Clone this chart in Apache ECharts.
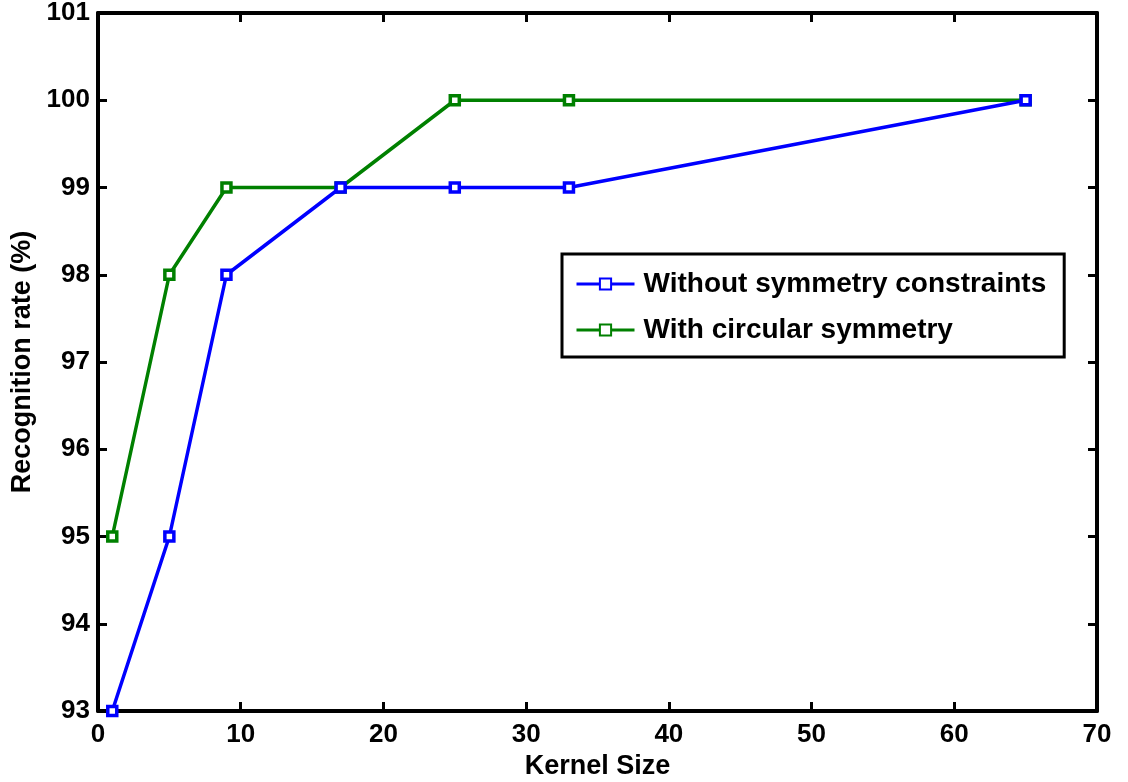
<!DOCTYPE html>
<html>
<head>
<meta charset="utf-8">
<script src="https://cdn.jsdelivr.net/npm/echarts@6/dist/echarts.min.js"></script>
<style>
  html, body { margin: 0; padding: 0; background: #fff; }
  #chart { width: 1128px; height: 782px; }
</style>
</head>
<body>
<div id="chart"></div>
<script>
// Kernel sizes tested and recognition rates (%) for each variant
const kernelSizes = [1, 5, 9, 17, 25, 33, 65];
const withoutSymmetry = [93, 95, 98, 99, 99, 99, 100];
const circularSymmetry = [95, 98, 99, 99, 100, 100, 100];
const seriesNames = ['Without symmetry constraints', 'With circular symmetry'];

const FONT = 'Liberation Sans, Arial, Helvetica, sans-serif';

const pairs = (xs, ys) => xs.map((x, i) => [x, ys[i]]);

const baseAxis = {
  axisLine: { show: true, onZero: false, lineStyle: { color: '#000', width: 4 } },
  axisTick: { show: true, inside: true, length: 9, lineStyle: { color: '#000', width: 3 } },
  splitLine: { show: false }
};

const labelStyle = { fontFamily: FONT, fontWeight: 'bold', fontSize: 26, color: '#000' };
const nameStyle = { fontFamily: FONT, fontWeight: 'bold', fontSize: 27, color: '#000' };

const chart = echarts.init(document.getElementById('chart'));
chart.setOption({
  backgroundColor: '#fff',
  animation: false,
  grid: { left: 98, right: 31, top: 13, bottom: 71, containLabel: false, outerBoundsMode: 'none' },
  xAxis: [
    Object.assign({}, baseAxis, {
      type: 'value', min: 0, max: 70, interval: 10, position: 'bottom',
      name: 'Kernel Size', nameLocation: 'middle', nameGap: 39,
      nameTextStyle: nameStyle,
      axisLabel: Object.assign({ margin: 11 }, labelStyle)
    }),
    Object.assign({}, baseAxis, {
      type: 'value', min: 0, max: 70, interval: 10, position: 'top',
      axisLabel: { show: false }
    })
  ],
  yAxis: [
    Object.assign({}, baseAxis, {
      type: 'value', min: 93, max: 101, interval: 1, position: 'left',
      name: 'Recognition rate (%)', nameLocation: 'middle', nameGap: 59, nameRotate: 90,
      nameTextStyle: nameStyle,
      axisLabel: Object.assign({ margin: 8 }, labelStyle)
    }),
    Object.assign({}, baseAxis, {
      type: 'value', min: 93, max: 101, interval: 1, position: 'right',
      axisLabel: { show: false }
    })
  ],
  legend: {
    orient: 'vertical',
    left: 562, top: 254,
    padding: [16, 18, 13, 13],
    itemGap: 18,
    itemWidth: 58, itemHeight: 14,
    borderColor: '#000', borderWidth: 3,
    backgroundColor: '#fff',
    lineStyle: { width: 3 },
    textStyle: { fontFamily: FONT, fontWeight: 'bold', fontSize: 28, color: '#000', padding: [0, 0, 0, 4] },
    data: seriesNames
  },
  series: [
    {
      name: seriesNames[0], type: 'line',
      data: pairs(kernelSizes, withoutSymmetry),
      symbol: 'rect', symbolSize: 9,
      lineStyle: { color: '#0000ff', width: 3.5 },
      itemStyle: { color: '#fff', borderColor: '#0000ff', borderWidth: 3.5 },
      z: 3
    },
    {
      name: seriesNames[1], type: 'line',
      data: pairs(kernelSizes, circularSymmetry),
      symbol: 'rect', symbolSize: 9,
      lineStyle: { color: '#008000', width: 3.5 },
      itemStyle: { color: '#fff', borderColor: '#008000', borderWidth: 3.5 },
      z: 2
    }
  ]
});
</script>
</body>
</html>
